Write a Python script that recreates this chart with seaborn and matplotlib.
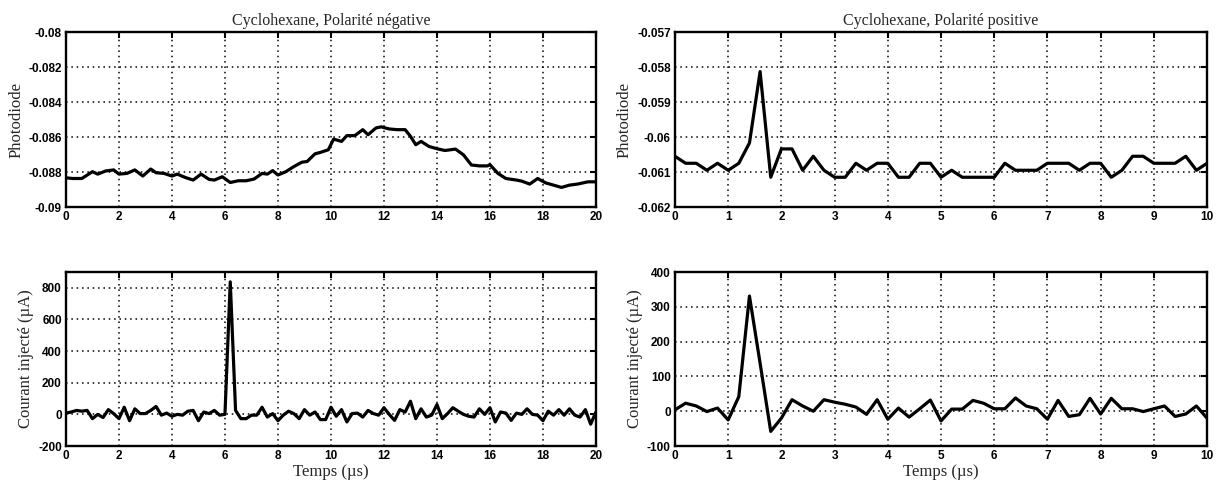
import matplotlib
matplotlib.use("Agg")
import matplotlib.pyplot as plt
import seaborn as sns
import pandas as pd

# ---- data ----

# Cyclohexane, negative polarity: photodiode signal
neg_photo_t = [
    0.0, 0.25, 0.5, 0.6, 1.0, 1.2, 1.5, 1.8, 2.0, 2.3, 2.6, 2.9, 3.2, 3.4,
    3.7, 4.0, 4.2, 4.5, 4.8, 5.1, 5.4, 5.6, 5.9, 6.2, 6.5, 6.8, 7.1, 7.4,
    7.6, 7.8, 8.0, 8.3, 8.6, 8.9, 9.1, 9.4, 9.6, 9.9, 10.1, 10.4, 10.6,
    10.9, 11.2, 11.4, 11.7, 11.9, 12.2, 12.5, 12.8, 13.0, 13.2, 13.4, 13.7,
    14.0, 14.3, 14.7, 15.0, 15.3, 15.6, 15.9, 16.0, 16.3, 16.6, 17.0, 17.2,
    17.5, 17.8, 18.1, 18.4, 18.7, 19.0, 19.3, 19.7, 20.0,
]
neg_photo_v = [
    -0.08833, -0.08837, -0.08837, -0.08837, -0.08798, -0.08812, -0.08794,
    -0.08788, -0.08812, -0.08808, -0.08788, -0.08823, -0.08783, -0.08804,
    -0.08808, -0.08823, -0.08812, -0.08831, -0.08846, -0.08812, -0.08842,
    -0.08846, -0.08827, -0.08860, -0.08850, -0.08850, -0.08840, -0.08808,
    -0.08812, -0.08792, -0.08817, -0.08798, -0.08769, -0.08744, -0.08740,
    -0.08696, -0.08688, -0.08673, -0.08612, -0.08625, -0.08592, -0.08592,
    -0.08558, -0.08587, -0.08548, -0.08542, -0.08554, -0.08558, -0.08558,
    -0.08596, -0.08644, -0.08625, -0.08654, -0.08667, -0.08677, -0.08669,
    -0.08702, -0.08760, -0.08765, -0.08765, -0.08758, -0.08808, -0.08837,
    -0.08846, -0.08852, -0.08869, -0.08837, -0.08862, -0.08875, -0.08888,
    -0.08875, -0.08869, -0.08856, -0.08856,
]

# Cyclohexane, negative polarity: injected current (uA)
neg_cur_t = [round(0.2 * i, 1) for i in range(101)]
neg_cur_v = [
    8, 15, 25, 20, 25, -27, 0, -20, 30, 5,
    -27, 45, -40, 35, 5, 5, 25, 50, -5, 8,
    -12, 0, -5, 20, 25, -40, 15, 5, 25, -5,
    0, 838, 25, -27, -27, -5, -5, 45, -17, 5,
    -40, -5, 20, 5, -27, 30, -5, 15, -33, -33,
    45, -12, 30, -48, 5, 8, -17, 25, 5, -5,
    42, 0, -38, 30, 15, 83, -27, 35, -17, -5,
    62, -27, 5, 42, 20, 0, -12, -17, 35, 0,
    42, -48, 15, 8, -38, 8, 0, 35, 0, -5,
    -40, 20, -5, 30, -5, 35, -5, -17, 30, -62,
    15,
]

# Cyclohexane, positive polarity: photodiode signal
pos_photo_t = [round(0.2 * i, 1) for i in range(51)]
pos_photo_v = [
    -0.06055, -0.06075, -0.06075, -0.06095, -0.06075, -0.06095, -0.06075,
    -0.06017, -0.05813, -0.06115, -0.06034, -0.06034, -0.06095, -0.06055,
    -0.06095, -0.06115, -0.06115, -0.06075, -0.06095, -0.06075, -0.06075,
    -0.06115, -0.06115, -0.06075, -0.06075, -0.06115, -0.06095, -0.06115,
    -0.06115, -0.06115, -0.06115, -0.06075, -0.06095, -0.06095, -0.06095,
    -0.06075, -0.06075, -0.06075, -0.06095, -0.06075, -0.06075, -0.06115,
    -0.06095, -0.06055, -0.06055, -0.06075, -0.06075, -0.06075, -0.06055,
    -0.06095, -0.06075,
]

# Cyclohexane, positive polarity: injected current (uA)
pos_cur_t = [round(0.2 * i, 1) for i in range(51)]
pos_cur_v = [
    4, 23, 15, -1, 9, -25, 42, 331, 138, -58,
    -20, 33, 15, 0, 33, 26, 20, 12, -9, 33,
    -23, 9, -17, 7, 32, -28, 6, 6, 31, 23,
    7, 7, 38, 15, 7, -23, 31, -15, -10, 37,
    -8, 37, 7, 7, -1, 7, 15, -15, -8, 15,
    -20,
]

neg_photo_ticks = [-0.09, -0.088, -0.086, -0.084, -0.082, -0.08]
neg_photo_labels = ["-0.09", "-0.088", "-0.086", "-0.084", "-0.082", "-0.08"]
pos_photo_ticks = [-0.062, -0.061, -0.06, -0.059, -0.058, -0.057]
pos_photo_labels = ["-0.062", "-0.061", "-0.06", "-0.059", "-0.058", "-0.057"]
neg_cur_ticks = [-200, 0, 200, 400, 600, 800]
pos_cur_ticks = [-100, 0, 100, 200, 300, 400]
neg_x_ticks = list(range(0, 21, 2))
pos_x_ticks = list(range(0, 11))

# ---- style ----
sns.set_style("white")
plt.rcParams["font.family"] = ["Liberation Serif", "DejaVu Serif"]

fig = plt.figure(figsize=(12.19, 4.83), dpi=100)

ax_np = fig.add_axes([0.0541, 0.5714, 0.4348, 0.3623])
ax_pp = fig.add_axes([0.5537, 0.5714, 0.4365, 0.3623])
ax_nc = fig.add_axes([0.0541, 0.0766, 0.4348, 0.3602])
ax_pc = fig.add_axes([0.5537, 0.0766, 0.4365, 0.3602])


def draw(ax, t, v, xlim, ylim, xticks, yticks, ylabels=None):
    df = pd.DataFrame({"t": t, "v": v})
    sns.lineplot(data=df, x="t", y="v", ax=ax, color="black", linewidth=2.3)
    ax.set_xlim(*xlim)
    ax.set_ylim(*ylim)
    ax.set_xticks(xticks)
    ax.set_xticklabels([str(x) for x in xticks])
    ax.set_yticks(yticks)
    ax.set_yticklabels(ylabels if ylabels else [str(y) for y in yticks])
    ax.grid(True, linestyle=(0, (1, 2.5)), color="black", linewidth=1.1)
    ax.tick_params(direction="in", length=4, width=1.5, top=True, right=True,
                   pad=3, colors="black")
    for lab in ax.get_xticklabels() + ax.get_yticklabels():
        lab.set_fontfamily("Liberation Sans")
        lab.set_fontweight("bold")
        lab.set_fontsize(8.5)
    for sp in ax.spines.values():
        sp.set_visible(True)
        sp.set_color("black")
        sp.set_linewidth(1.7)
    ax.set_xlabel("")
    ax.set_ylabel("")


draw(ax_np, neg_photo_t, neg_photo_v, (0, 20), (-0.09, -0.08),
     neg_x_ticks, neg_photo_ticks, neg_photo_labels)
draw(ax_pp, pos_photo_t, pos_photo_v, (0, 10), (-0.062, -0.057),
     pos_x_ticks, pos_photo_ticks, pos_photo_labels)
draw(ax_nc, neg_cur_t, neg_cur_v, (0, 20), (-200, 900),
     neg_x_ticks, neg_cur_ticks)
draw(ax_pc, pos_cur_t, pos_cur_v, (0, 10), (-100, 400),
     pos_x_ticks, pos_cur_ticks)

ax_np.set_title("Cyclohexane, Polarité négative", fontsize=11.5, pad=5)
ax_pp.set_title("Cyclohexane, Polarité positive", fontsize=11.5, pad=5)
ax_np.set_ylabel("Photodiode", fontsize=12, labelpad=3)
ax_pp.set_ylabel("Photodiode", fontsize=12, labelpad=3)
ax_nc.set_ylabel("Courant injecté (µA)", fontsize=12, labelpad=3)
ax_pc.set_ylabel("Courant injecté (µA)", fontsize=12, labelpad=3)
ax_nc.set_xlabel("Temps (µs)", fontsize=12, labelpad=1)
ax_pc.set_xlabel("Temps (µs)", fontsize=12, labelpad=1)

fig.savefig("out.png", dpi=100)
